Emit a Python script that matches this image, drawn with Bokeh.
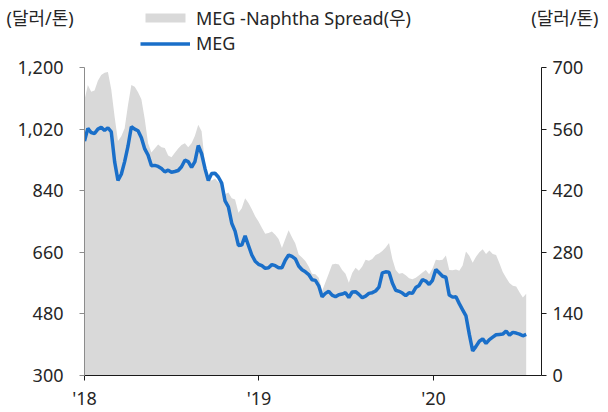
import pandas as pd
from bokeh.plotting import figure
from bokeh.layouts import column
from bokeh.models import (Range1d, LinearAxis, FixedTicker, NumeralTickFormatter,
                          Legend, LegendItem, Label, ColumnDataSource)
from bokeh.embed import file_html
from bokeh.resources import INLINE

# Weekly MEG price (USD/t, left axis) from the first week of 2018
meg = [985, 1022, 1010, 1007, 1020, 1025, 1016, 1024, 1012, 925,
       870, 888, 925, 970, 1027, 1020, 1015, 995, 962, 944,
       913, 914, 911, 905, 895, 900, 894, 896, 899, 910,
       929, 925, 908, 925, 972, 948, 905, 870, 890, 891,
       880, 862, 810, 793, 745, 722, 680, 681, 708, 680,
       652, 634, 625, 621, 613, 615, 624, 621, 615, 615,
       637, 652, 648, 641, 620, 609, 603, 595, 580, 578,
       562, 530, 540, 546, 535, 530, 536, 538, 542, 528,
       544, 545, 537, 527, 532, 540, 542, 547, 558, 600,
       603, 602, 570, 549, 546, 541, 533, 542, 540, 557,
       563, 580, 576, 566, 578, 610, 600, 590, 587, 535,
       529, 530, 510, 492, 474, 420, 372, 385, 400, 407,
       394, 405, 412, 419, 420, 421, 430, 418, 426, 424,
       421, 416, 420]

# Weekly MEG - Naphtha spread (USD/t, right axis)
spread = [626, 660, 645, 648, 670, 683, 688, 690, 650, 588,
          533, 544, 562, 615, 660, 656, 644, 628, 583, 528,
          507, 516, 525, 519, 517, 500, 496, 506, 516, 524,
          528, 519, 528, 545, 570, 555, 480, 446, 443, 448,
          440, 434, 412, 416, 403, 400, 370, 380, 403, 392,
          378, 362, 350, 336, 322, 324, 327, 320, 310, 290,
          310, 330, 314, 300, 275, 268, 260, 248, 231, 230,
          222, 192, 212, 232, 252, 254, 252, 240, 231, 211,
          233, 245, 238, 248, 263, 261, 265, 274, 277, 283,
          291, 301, 265, 240, 231, 233, 228, 221, 219, 222,
          228, 234, 240, 230, 243, 263, 262, 263, 273, 240,
          239, 241, 238, 250, 282, 272, 256, 270, 280, 287,
          276, 284, 276, 274, 255, 235, 222, 210, 204, 202,
          189, 177, 186]

year_ticks = ["2018-01-01", "2019-01-01", "2020-01-01"]
year_labels = ["'18", "'19", "'20"]
left_ticks = [300, 480, 660, 840, 1020, 1200]
right_ticks = [0, 140, 280, 420, 560, 700]
unit_text = "(달러/톤)"
spread_label = "MEG -Naphtha Spread(우)"
meg_label = "MEG"

AREA_COLOR = "#d9d9d9"
LINE_COLOR = "#1a6fc9"
LINE_W = 3.5
FONT = "Noto Sans, Noto Sans CJK KR"
TXT = "#262626"

W = 608
HEAD_H = 55          # header strip holding the units and the legend
MAIN_H = 412 - HEAD_H
FRAME_L, FRAME_R = 84, 541
FRAME_T, FRAME_B = 12, 324   # inside the chart figure

# ---------------- header: units and legend ----------------
head = figure(width=W, height=HEAD_H, output_backend="svg", toolbar_location=None,
              x_range=Range1d(0, W), y_range=Range1d(HEAD_H, 0),
              x_axis_type=None, y_axis_type=None,
              min_border_left=0, min_border_right=0, min_border_top=0, min_border_bottom=0)
head.outline_line_color = None
head.grid.visible = False
head.frame_align = False

for x, align in [(6, "left"), (598, "right")]:
    head.add_layout(Label(x=x, y=17, text=unit_text, text_align=align,
                          text_baseline="middle", text_font=FONT,
                          text_font_size="18px", text_color=TXT))

# key glyphs sit outside the visible range; only their legend swatches show
key_area = head.varea(x=[-20, -10], y1=[-20, -20], y2=[-10, -10], fill_color=AREA_COLOR)
key_line = head.line(x=[-20, -10], y=[-20, -20], line_color=LINE_COLOR, line_width=LINE_W)
legend = Legend(items=[LegendItem(label=spread_label, renderers=[key_area]),
                       LegendItem(label=meg_label, renderers=[key_line])],
                location=(140, -1), orientation="vertical",
                glyph_width=50, glyph_height=11, label_height=26,
                label_standoff=6, spacing=0, padding=0, margin=0,
                border_line_color=None, background_fill_alpha=0,
                label_text_font=FONT, label_text_font_size="18px",
                label_text_color=TXT)
head.add_layout(legend)

# ---------------- chart ----------------
dates = pd.date_range("2018-01-01", periods=len(meg), freq="7D")
src = ColumnDataSource(dict(date=dates, meg=meg, spread=spread))

x_start = pd.Timestamp("2018-01-01")
x_end = pd.Timestamp("2020-08-14")
ms = lambda t: pd.Timestamp(t).value / 1e6

p = figure(width=W, height=MAIN_H, output_backend="svg", toolbar_location=None,
           x_range=Range1d(x_start, x_end), y_range=Range1d(300, 1200),
           x_axis_type=None, y_axis_type=None,
           min_border_left=FRAME_L, min_border_right=W - FRAME_R,
           min_border_top=FRAME_T, min_border_bottom=MAIN_H - FRAME_B)
p.extra_y_ranges = {"right": Range1d(0, 700)}
p.outline_line_color = None
p.frame_align = False

p.varea(x="date", y1=0, y2="spread", source=src, y_range_name="right",
        fill_color=AREA_COLOR)
p.line(x="date", y="meg", source=src, line_color=LINE_COLOR, line_width=LINE_W)


def style_axis(ax, color):
    ax.axis_line_color = color
    ax.major_tick_line_color = color
    ax.major_tick_out = 5
    ax.major_tick_in = 0
    ax.minor_tick_line_color = None
    ax.major_label_text_font = FONT
    ax.major_label_text_font_size = "18px"
    ax.major_label_text_color = TXT


xax = LinearAxis(ticker=FixedTicker(ticks=[ms(t) for t in year_ticks]))
xax.major_label_overrides = {int(ms(t)): lab for t, lab in zip(year_ticks, year_labels)}
style_axis(xax, "#1a1a1a")
xax.major_label_standoff = 5
p.add_layout(xax, "below")

lax = LinearAxis(ticker=FixedTicker(ticks=left_ticks),
                 formatter=NumeralTickFormatter(format="0,0"))
style_axis(lax, "#8c8c8c")
lax.major_label_standoff = 16
p.add_layout(lax, "left")

rax = LinearAxis(y_range_name="right", ticker=FixedTicker(ticks=right_ticks),
                 formatter=NumeralTickFormatter(format="0,0"))
style_axis(rax, "#1a1a1a")
rax.major_label_standoff = 6
p.add_layout(rax, "right")

layout = column(head, p, spacing=0)
open("out.html", "w").write(file_html(layout, INLINE))
